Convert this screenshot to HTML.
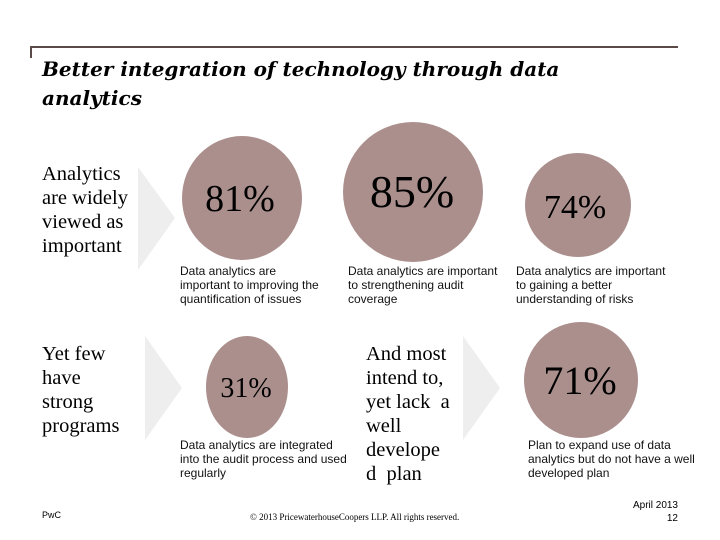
<!DOCTYPE html>
<html><head><meta charset="utf-8"><style>
body{margin:0;background:#fff;}
#s{position:relative;width:720px;height:540px;overflow:hidden;background:#fff;font-family:"Liberation Serif",serif;color:#000}
.t{position:absolute;white-space:nowrap}
.serif{font-family:"Liberation Serif",serif;font-size:20.5px;line-height:24px}
.cap{font-family:"Liberation Sans",sans-serif;font-size:12px;line-height:14px;color:#111}
</style></head><body>
<div id="s">
<svg width="720" height="540" style="position:absolute;left:0;top:0">
<path d="M30 47H678M31 47V58" stroke="#5a4a48" stroke-width="2" fill="none"/>
<polygon points="138,167 175,218 138,270" fill="#eeeeee"/>
<polygon points="145,336 182,388 145,440" fill="#eeeeee"/>
<polygon points="463,336 500,388 463,440" fill="#eeeeee"/>
<ellipse cx="242" cy="198" rx="60" ry="62" fill="#ab8f8d"/>
<ellipse cx="413" cy="192" rx="70" ry="70" fill="#ab8f8d"/>
<ellipse cx="578" cy="205" rx="53" ry="52" fill="#ab8f8d"/>
<ellipse cx="247" cy="387" rx="41" ry="51" fill="#ab8f8d"/>
<ellipse cx="581" cy="380" rx="57" ry="58" fill="#ab8f8d"/>
<g font-family="Liberation Serif, serif" text-anchor="middle" fill="#000">
<text x="240" y="211" font-size="38">81%</text>
<text x="412" y="207" font-size="46">85%</text>
<text x="575" y="218" font-size="34">74%</text>
<text x="246" y="397" font-size="28">31%</text>
<text x="580" y="394" font-size="40">71%</text>
</g>
</svg>
<div class="t" style="left:42px;top:55px;font-family:'DejaVu Serif',serif;font-size:20px;line-height:29px;font-weight:bold;font-style:italic">Better integration of technology through data<br>analytics</div>
<div class="t serif" style="left:42px;top:162px">Analytics<br>are widely<br>viewed as<br>important</div>
<div class="t serif" style="left:42px;top:342px">Yet few<br>have<br>strong<br>programs</div>
<div class="t serif" style="left:366px;top:342px">And most<br>intend to,<br>yet lack&nbsp; a<br>well<br>develope<br>d&nbsp; plan</div>
<div class="t cap" style="left:180px;top:264px">Data analytics are<br>important to improving the<br>quantification of issues</div>
<div class="t cap" style="left:348px;top:264px">Data analytics are important<br>to strengthening audit<br>coverage</div>
<div class="t cap" style="left:516px;top:264px">Data analytics are important<br>to gaining a better<br>understanding of risks</div>
<div class="t cap" style="left:180px;top:438px">Data analytics are integrated<br>into the audit process and used<br>regularly</div>
<div class="t cap" style="left:528px;top:438px">Plan to expand use of data<br>analytics but do not have a well<br>developed plan</div>
<div class="t" style="left:42px;top:510px;font-family:'Liberation Sans',sans-serif;font-size:9px">PwC</div>
<div class="t" style="left:250px;top:512px;font-size:9px">© 2013 PricewaterhouseCoopers LLP. All rights reserved.</div>
<div class="t" style="right:42px;top:499px;font-family:'Liberation Sans',sans-serif;font-size:10px;line-height:13px;text-align:right">April 2013<br>12</div>
</div>
</body></html>
